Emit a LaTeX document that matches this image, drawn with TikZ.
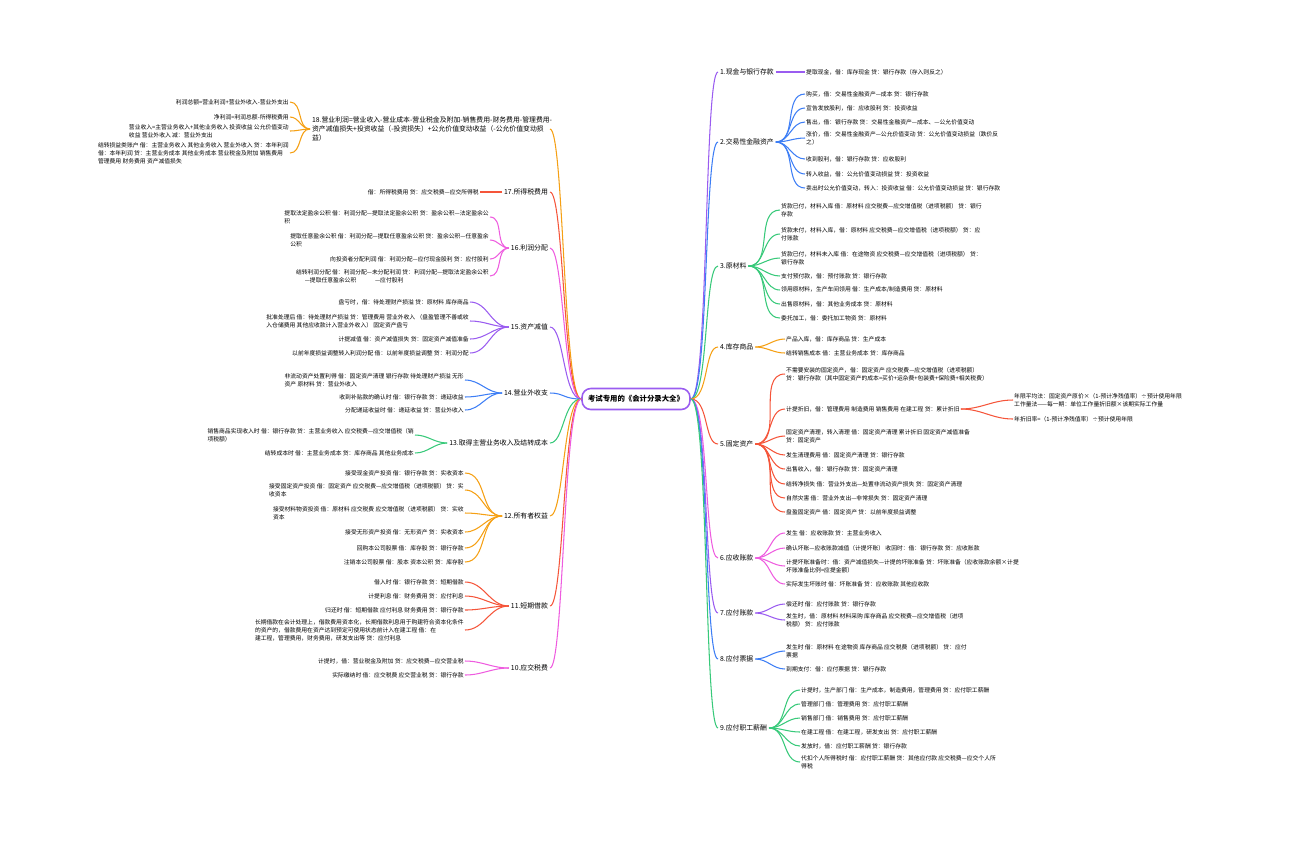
\documentclass[tikz,border=0pt]{standalone}
\usepackage{fontspec}
\setmainfont{Noto Sans CJK SC}
\usetikzlibrary{positioning}

\definecolor{cPur}{HTML}{9A5CF0}
\definecolor{cBlu}{HTML}{3D7EF5}
\definecolor{cGrn}{HTML}{38C97A}
\definecolor{cOrg}{HTML}{F5A014}
\definecolor{cRed}{HTML}{F5553A}
\definecolor{cPnk}{HTML}{EE5CDF}

\tikzset{
  leaf/.style={inner sep=0.5pt, font=\fontsize{3.3}{4.6}\selectfont},
  lleaf/.style={leaf, anchor=east, align=left},
  rleaf/.style={leaf, anchor=west, align=left},
  branch/.style={inner sep=1pt, font=\fontsize{3.9}{5}\selectfont},
  link/.style={line width=0.6pt},
}

\begin{document}
\begin{tikzpicture}[x=0.02cm, y=-0.02cm]
  \useasboundingbox (0,0) rectangle (1296,840);

  % root
  \node[draw=cPur, line width=0.9pt, rounded corners=5pt, fill=white,
        minimum width=2.16cm, minimum height=0.42cm, inner sep=1pt,
        font=\fontsize{4.2}{5}\selectfont\bfseries] (root) at (636,399) {考试专用的《会计分录大全》};

  % ---------- right side ----------
  \node[branch, anchor=west] (b1) at (718,72)  {1.现金与银行存款};
  \node[branch, anchor=west] (b2) at (718,142) {2.交易性金融资产};
  \node[branch, anchor=west] (b3) at (718,266) {3.原材料};
  \node[branch, anchor=west] (b4) at (718,347) {4.库存商品};
  \node[branch, anchor=west] (b5) at (718,444) {5.固定资产};
  \node[branch, anchor=west] (b6) at (718,558) {6.应收账款};
  \node[branch, anchor=west] (b7) at (718,613) {7.应付账款};
  \node[branch, anchor=west] (b8) at (718,659) {8.应付票据};
  \node[branch, anchor=west] (b9) at (718,728) {9.应付职工薪酬};

  \foreach \b/\c in {b1/cPur, b2/cBlu, b3/cGrn, b4/cOrg, b5/cRed, b6/cPnk, b7/cPur, b8/cBlu, b9/cGrn}
    \draw[link, \c] (root.east) .. controls +(18,0) and +(-14,0) .. (\b.west);

  % 1
  \node[rleaf] (c11) at (805,72) {提取现金，借：库存现金 贷：银行存款（存入则反之）};
  \draw[link, cPur] (b1.east) -- (c11.west);

  % 2
  \foreach \i/\y/\t in {
    1/94/{购买，借：交易性金融资产—成本 贷：银行存款},
    2/108/{宣告发放股利，借：应收股利 贷：投资收益},
    3/122/{售出，借：银行存款 贷：交易性金融资产—成本、—公允价值变动},
    4/138/{涨价，借：交易性金融资产—公允价值变动 贷：公允价值变动损益（跌价反\\之）},
    5/159/{收到股利，借：银行存款 贷：应收股利},
    6/174/{转入收益，借：公允价值变动损益 贷：投资收益},
    7/188/{卖出时公允价值变动，转入：投资收益 借：公允价值变动损益 贷：银行存款}}
  {
    \node[rleaf] (c2\i) at (805,\y) {\t};
    \draw[link, cBlu] (b2.east) to[out=0, in=180] (c2\i.west);
  }

  % 3
  \foreach \i/\y/\t in {
    1/210/{货款已付，材料入库 借：原材料 应交税费—应交增值税（进项税额） 贷：银行\\存款},
    2/234/{货款未付，材料入库，借：原材料 应交税费—应交增值税（进项税额） 贷：应\\付账款},
    3/258/{货款已付，材料未入库 借：在途物资 应交税费—应交增值税（进项税额） 贷：\\银行存款},
    4/276/{支付预付款，借：预付账款 贷：银行存款},
    5/290/{领用原材料，生产车间领用 借：生产成本/制造费用 贷：原材料},
    6/304/{出售原材料，借：其他业务成本 贷：原材料},
    7/318/{委托加工，借：委托加工物资 贷：原材料}}
  {
    \node[rleaf] (c3\i) at (780,\y) {\t};
    \draw[link, cGrn] (b3.east) to[out=0, in=180] (c3\i.west);
  }

  % 4
  \foreach \i/\y/\t in {
    1/339/{产品入库，借：库存商品 贷：生产成本},
    2/353/{结转销售成本 借：主营业务成本 贷：库存商品}}
  {
    \node[rleaf] (c4\i) at (785,\y) {\t};
    \draw[link, cOrg] (b4.east) to[out=0, in=180] (c4\i.west);
  }

  % 5
  \foreach \i/\y/\t in {
    1/374/{不需要安装的固定资产，借：固定资产 应交税费—应交增值税（进项税额）\\贷：银行存款（其中固定资产的成本=买价+运杂费+包装费+保险费+相关税费）},
    2/409/{计提折旧，借：管理费用 制造费用 销售费用 在建工程 贷：累计折旧},
    3/436/{固定资产清理，转入清理 借：固定资产清理 累计折旧 固定资产减值准备\\贷：固定资产},
    4/455/{发生清理费用 借：固定资产清理 贷：银行存款},
    5/469/{出售收入，借：银行存款 贷：固定资产清理},
    6/484/{结转净损失 借：营业外支出—处置非流动资产损失 贷：固定资产清理},
    7/498/{自然灾害 借：营业外支出—非常损失 贷：固定资产清理},
    8/512/{盘盈固定资产 借：固定资产 贷：以前年度损益调整}}
  {
    \node[rleaf] (c5\i) at (785,\y) {\t};
    \draw[link, cRed] (b5.east) to[out=0, in=180] (c5\i.west);
  }
  \node[rleaf] (c521) at (1013,400) {年限平均法：固定资产原价×（1-预计净残值率）÷预计使用年限\\工作量法——每一期：单位工作量折旧额×该期实际工作量};
  \node[rleaf] (c522) at (1013,419) {年折旧率=（1-预计净残值率）÷预计使用年限};
  \draw[link, cRed] (c52.east) to[out=0, in=180] (c521.west);
  \draw[link, cRed] (c52.east) to[out=0, in=180] (c522.west);

  % 6
  \foreach \i/\y/\t in {
    1/533/{发生 借：应收账款 贷：主营业务收入},
    2/548/{确认坏账—应收账款减值（计提坏账） 收回时：借：银行存款 贷：应收账款},
    3/566/{计提坏账准备时：借：资产减值损失—计提的坏账准备 贷：坏账准备（应收账款余额×计提\\坏账准备比例=应提金额）},
    4/584/{实际发生坏账时 借：坏账准备 贷：应收账款 其他应收款}}
  {
    \node[rleaf] (c6\i) at (785,\y) {\t};
    \draw[link, cPnk] (b6.east) to[out=0, in=180] (c6\i.west);
  }

  % 7
  \foreach \i/\y/\t in {
    1/604/{偿还时 借：应付账款 贷：银行存款},
    2/620/{发生时，借：原材料 材料采购 库存商品 应交税费—应交增值税（进项\\税额） 贷：应付账款}}
  {
    \node[rleaf] (c7\i) at (785,\y) {\t};
    \draw[link, cPur] (b7.east) to[out=0, in=180] (c7\i.west);
  }

  % 8
  \foreach \i/\y/\t in {
    1/651/{发生时 借：原材料 在途物资 库存商品 应交税费（进项税额） 贷：应付\\票据},
    2/669/{到期支付：借：应付票据 贷：银行存款}}
  {
    \node[rleaf] (c8\i) at (785,\y) {\t};
    \draw[link, cBlu] (b8.east) to[out=0, in=180] (c8\i.west);
  }

  % 9
  \foreach \i/\y/\t in {
    1/690/{计提时，生产部门 借：生产成本，制造费用，管理费用 贷：应付职工薪酬},
    2/704/{管理部门 借：管理费用 贷：应付职工薪酬},
    3/718/{销售部门 借：销售费用 贷：应付职工薪酬},
    4/732/{在建工程 借：在建工程，研发支出 贷：应付职工薪酬},
    5/746/{发放时，借：应付职工薪酬 贷：银行存款},
    6/762/{代扣个人所得税时 借：应付职工薪酬 贷：其他应付款 应交税费—应交个人所\\得税}}
  {
    \node[rleaf] (c9\i) at (800,\y) {\t};
    \draw[link, cGrn] (b9.east) to[out=0, in=180] (c9\i.west);
  }

  % ---------- left side ----------
  \node[branch, anchor=west, align=left] (b18) at (310,129) {18.营业利润=营业收入-营业成本-营业税金及附加-销售费用-财务费用-管理费用-\\资产减值损失+投资收益（-投资损失）+公允价值变动收益（-公允价值变动损\\益）};
  \node[branch, anchor=east] (b17) at (550,192) {17.所得税费用};
  \node[branch, anchor=east] (b16) at (550,248) {16.利润分配};
  \node[branch, anchor=east] (b15) at (550,327) {15.资产减值};
  \node[branch, anchor=east] (b14) at (550,393) {14.营业外收支};
  \node[branch, anchor=east] (b13) at (550,443) {13.取得主营业务收入及结转成本};
  \node[branch, anchor=east] (b12) at (550,516) {12.所有者权益};
  \node[branch, anchor=east] (b11) at (550,606) {11.短期借款};
  \node[branch, anchor=east] (b10) at (550,668) {10.应交税费};

  \coordinate (b18e) at (550,129);
  \foreach \b/\c in {b18e/cOrg, b17/cRed, b16/cPnk, b15/cPur, b14/cBlu, b13/cGrn, b12/cOrg, b11/cRed, b10/cPnk}
    \draw[link, \c] (root.west) .. controls +(-18,0) and +(14,0) .. (\b.east);

  % 18
  \foreach \i/\y/\t in {
    1/102/{利润总额=营业利润+营业外收入-营业外支出},
    2/117/{净利润=利润总额-所得税费用},
    3/131/{营业收入=主营业务收入+其他业务收入 投资收益 公允价值变动\\收益 营业外收入 减：营业外支出},
    4/153/{结转损益类账户 借：主营业务收入 其他业务收入 营业外收入 贷：本年利润\\借：本年利润 贷：主营业务成本 其他业务成本 营业税金及附加 销售费用\\管理费用 财务费用 资产减值损失}}
  {
    \node[lleaf] (c18\i) at (290,\y) {\t};
    \draw[link, cOrg] (b18.west) to[out=180, in=0] (c18\i.east);
  }

  % 17
  \node[lleaf] (c171) at (480,192) {借：所得税费用 贷：应交税费—应交所得税};
  \draw[link, cRed] (b17.west) -- (c171.east);

  % 16
  \foreach \i/\y/\t in {
    1/217/{提取法定盈余公积 借：利润分配—提取法定盈余公积 贷：盈余公积—法定盈余公\\积},
    2/240/{提取任意盈余公积 借：利润分配—提取任意盈余公积 贷：盈余公积—任意盈余\\公积},
    3/259/{向投资者分配利润 借：利润分配—应付现金股利 贷：应付股利},
    4/276/{结转利润分配 借：利润分配—未分配利润 贷：利润分配—提取法定盈余公积\\ \hspace{1.5em}—提取任意盈余公积 \hspace{3em}—应付股利}}
  {
    \node[lleaf] (c16\i) at (490,\y) {\t};
    \draw[link, cPnk] (b16.west) to[out=180, in=0] (c16\i.east);
  }

  % 15
  \foreach \i/\y/\t in {
    1/302/{盘亏时，借：待处理财产损溢 贷：原材料 库存商品},
    2/321/{批准处理后 借：待处理财产损溢 贷：管理费用 营业外收入 （盘盈管理不善或收\\入仓储费用 其他应收款计入营业外收入） 固定资产盘亏},
    3/339/{计提减值 借：资产减值损失 贷：固定资产减值准备},
    4/353/{以前年度损益调整转入利润分配 借：以前年度损益调整 贷：利润分配}}
  {
    \node[lleaf] (c15\i) at (470,\y) {\t};
    \draw[link, cPur] (b15.west) to[out=180, in=0] (c15\i.east);
  }

  % 14
  \foreach \i/\y/\t in {
    1/380/{非流动资产处置利得 借：固定资产清理 银行存款 待处理财产损溢 无形\\资产 原材料 贷：营业外收入},
    2/397/{收到补贴款的确认时 借：银行存款 贷：递延收益},
    3/410/{分配递延收益时 借：递延收益 贷：营业外收入}}
  {
    \node[lleaf] (c14\i) at (465,\y) {\t};
    \draw[link, cBlu] (b14.west) to[out=180, in=0] (c14\i.east);
  }

  % 13
  \foreach \i/\y/\t in {
    1/435/{销售商品实现收入时 借：银行存款 贷：主营业务收入 应交税费—应交增值税（销\\项税额）},
    2/453/{结转成本时 借：主营业务成本 贷：库存商品 其他业务成本}}
  {
    \node[lleaf] (c13\i) at (415,\y) {\t};
    \draw[link, cGrn] (b13.west) to[out=180, in=0] (c13\i.east);
  }

  % 12
  \foreach \i/\y/\t in {
    1/473/{接受现金资产投资 借：银行存款 贷：实收资本},
    2/490/{接受固定资产投资 借：固定资产 应交税费—应交增值税（进项税额） 贷：实\\收资本},
    3/513/{接受材料物资投资 借：原材料 应交税费 应交增值税（进项税额） 贷：实收\\资本},
    4/532/{接受无形资产投资 借：无形资产 贷：实收资本},
    5/548/{回购本公司股票 借：库存股 贷：银行存款},
    6/562/{注销本公司股票 借：股本 资本公积 贷：库存股}}
  {
    \node[lleaf] (c12\i) at (465,\y) {\t};
    \draw[link, cOrg] (b12.west) to[out=180, in=0] (c12\i.east);
  }

  % 11
  \foreach \i/\y/\t in {
    1/582/{借入时 借：银行存款 贷：短期借款},
    2/596/{计提利息 借：财务费用 贷：应付利息},
    3/610/{归还时 借：短期借款 应付利息 财务费用 贷：银行存款},
    4/630/{长期借款在会计处理上，借款费用资本化，长期借款利息用于购建符合资本化条件\\的资产的，借款费用在资产达到预定可使用状态前计入在建工程 借：在\\建工程，管理费用，财务费用，研发支出等 贷：应付利息}}
  {
    \node[lleaf] (c11\i) at (465,\y) {\t};
    \draw[link, cRed] (b11.west) to[out=180, in=0] (c11\i.east);
  }

  % 10
  \foreach \i/\y/\t in {
    1/661/{计提时，借：营业税金及附加 贷：应交税费—应交营业税},
    2/675/{实际缴纳时 借：应交税费 应交营业税 贷：银行存款}}
  {
    \node[lleaf] (c10\i) at (465,\y) {\t};
    \draw[link, cPnk] (b10.west) to[out=180, in=0] (c10\i.east);
  }
\end{tikzpicture}
\end{document}
